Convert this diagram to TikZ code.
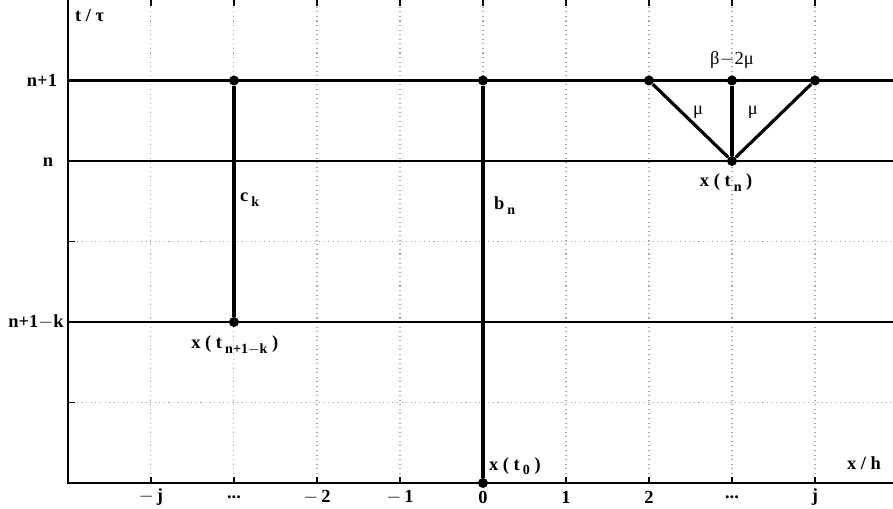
\documentclass[tikz,border=0pt]{standalone}
\usepackage{fontspec}
\setmainfont{Liberation Serif}
\usepackage{tikz}
\newcommand{\lowsub}[1]{\,\raisebox{-0.55ex}{\footnotesize #1}}
\newcommand{\tdots}{.{}.{}.}

\tikzset{
  axisline/.style={black, line width=1.5pt},
  gridline/.style={gray!70, dotted, line width=0.6pt},
  level/.style={black, line width=1.4pt},
  stem/.style={black, line width=1.8pt},
  dot/.style={circle, fill=black, inner sep=0pt, minimum size=0.2cm},
  lbl/.style={font=\fontsize{10.5}{12}\selectfont\bfseries, inner sep=1pt}
}

\begin{document}
\begin{tikzpicture}[x=1.66cm, y=1.61cm]
  \useasboundingbox (-5.819,-0.311) rectangle (4.940,6.0);

  % ---- grid ----
  \foreach \x in {-4,...,4} \draw[gridline] (\x,0) -- (\x,6);
  \foreach \y in {1,3} \draw[gridline] (-5,\y) -- (4.94,\y);

  % ---- time levels ----
  \draw[level] (-5,5) -- (4.94,5);
  \draw[level] (-5,4) -- (4.94,4);
  \draw[level] (-5,2) -- (4.94,2);

  % ---- axes and ticks ----
  \draw[axisline] (-5,6) -- (-5,0) -- (4.94,0);
  \foreach \x in {-4,...,4} {
    \draw[axisline, line width=0.9pt] (\x,0) -- ++(0,0.08);
    \draw[axisline, line width=0.9pt] (\x,6) -- ++(0,-0.08);
  }
  \foreach \y in {1,...,5} \draw[axisline, line width=0.9pt] (-5,\y) -- ++(0.08,0);

  % Tick labels
  \foreach \x/\t in {-4/{$-$\,j}, -3/\tdots, -2/{$-$\,2}, -1/{$-$\,1}, 0/0, 1/1, 2/2, 3/\tdots, 4/j}
    \node[lbl] (xt\x) at (\x,-0.174) {\t};
  \node[lbl] (ylvlA) at (-5.313,5.0) {n+1};
  \node[lbl] (ylvlB) at (-5.241,3.99) {n};
  \node[lbl] (ylvlC) at (-5.386,2.0) {n+1$-$k};
  \node[lbl, anchor=west] (tlab) at (-4.94,5.81) {t / τ};
  \node[lbl] (xlab) at (4.59,0.25) {x / h};

  % ---- nodes ----
  \node[dot] (ckTop) at (-3,5) {};
  \node[dot] (ckBot) at (-3,2) {};
  \node[dot] (bnTop) at (0,5) {};
  \node[dot] (bnBot) at (0,0) {};
  \node[dot] (stL) at (2,5) {};
  \node[dot] (stM) at (3,5) {};
  \node[dot] (stR) at (4,5) {};
  \node[dot] (xn) at (3,4) {};

  % ---- connectors ----
  \draw[stem] (ckTop) -- (ckBot);
  \draw[stem] (bnTop) -- (bnBot);
  \draw[stem] (xn) -- (stL);
  \draw[stem] (xn) -- (stM);
  \draw[stem] (xn) -- (stR);

  % Labels
  \node[lbl, anchor=west] (cklab) at (-2.95,3.52) {c\lowsub{k}};
  \node[lbl, anchor=west] (bnlab) at (0.108,3.45) {b\lowsub{n}};
  \node[lbl] (xklab) at (-2.99,1.71) {x ( t\lowsub{n+1$-$k} )};
  \node[lbl, anchor=west] (x0lab) at (0.048,0.21) {x ( t\lowsub{0} )};
  \node[lbl] (xnlab) at (2.93,3.73) {x ( t\lowsub{n} )};
  \node[lbl, font=\fontsize{10.5}{12}\selectfont] (blab) at (3.0,5.25) {β$-$2μ};
  \node[lbl, font=\fontsize{10.5}{12}\selectfont] (mulA) at (2.59,4.61) {μ};
  \node[lbl, font=\fontsize{10.5}{12}\selectfont] (mulB) at (3.25,4.61) {μ};

\end{tikzpicture}
\end{document}
